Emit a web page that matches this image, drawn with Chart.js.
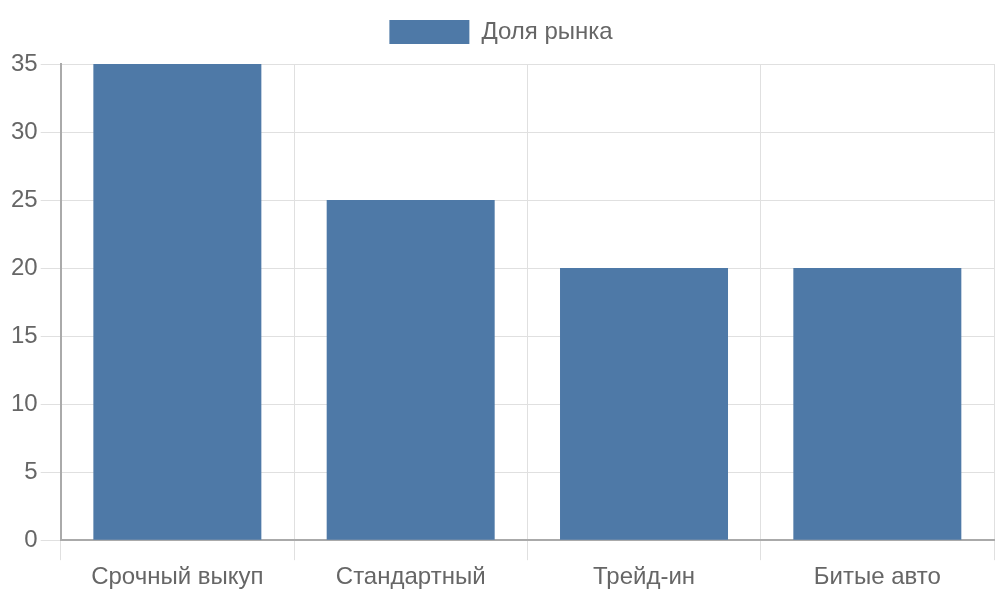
<!DOCTYPE html>
<html>
<head>
<meta charset="utf-8">
<script src="https://cdn.jsdelivr.net/npm/chart.js@4"></script>
<style>
  html, body { margin: 0; padding: 0; background: #fff; }
  #wrap { width: 1000px; height: 600px; }
</style>
</head>
<body>
<div id="wrap"><canvas id="myChart"></canvas></div>
<script>
let categories = ['Срочный выкуп', 'Стандартный', 'Трейд-ин', 'Битые авто']
let shares = [35, 25, 20, 20]
let seriesLabel = 'Доля рынка'

Chart.defaults.font.family = '"Liberation Sans", Arial, sans-serif'
Chart.defaults.font.size = 24
Chart.defaults.color = '#666'

var ctx = document.getElementById('myChart')

// a bit more space between the legend and the plot
const legendGap = {
    id: 'legendGap',
    beforeInit(chart) {
        const fit = chart.legend.fit
        chart.legend.fit = function () {
            fit.bind(chart.legend)()
            this.height += 10
        }
    }
}

new Chart(ctx, {
    type: 'bar',
    data: {
        labels: categories,
        datasets: [{
            label: seriesLabel,
            data: shares,
            backgroundColor: '#4e79a7',
            borderWidth: 0
        }]
    },
    options: {
        responsive: true,
        maintainAspectRatio: false,
        animation: false,
        layout: {
            padding: { top: 10, left: 8, right: 6, bottom: 5 }
        },
        plugins: {
            legend: {
                position: 'top',
                labels: {
                    boxWidth: 80,
                    boxHeight: 24
                }
            }
        },
        scales: {
            x: {
                grid: { color: '#e0e0e0', tickLength: 20 },
                border: { color: '#aaa', width: 2 }
            },
            y: {
                beginAtZero: true,
                max: 35,
                ticks: { stepSize: 5, padding: 3 },
                grid: { color: '#e0e0e0', tickLength: 20 },
                border: { color: '#aaa', width: 2 }
            }
        }
    },
    plugins: [legendGap]
})
</script>
</body>
</html>
